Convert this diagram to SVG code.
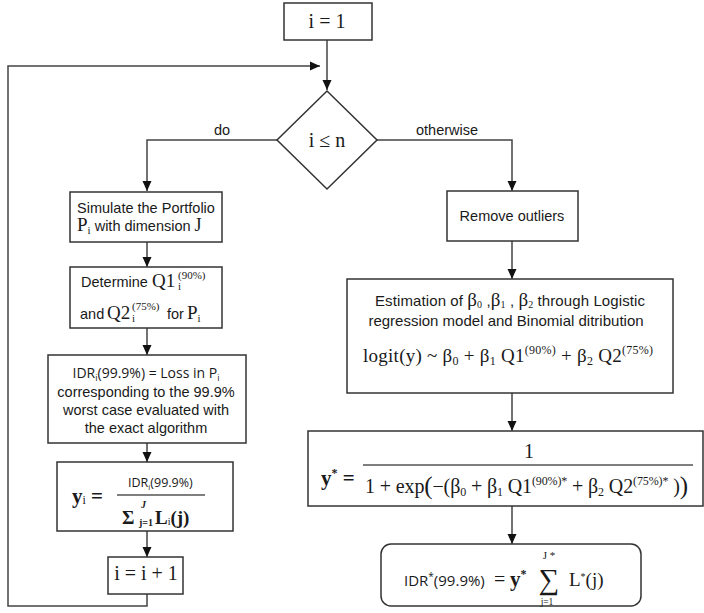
<svg xmlns="http://www.w3.org/2000/svg" width="704" height="613" viewBox="0 0 704 613">
<defs>
<marker id="ah" markerUnits="userSpaceOnUse" markerWidth="10" markerHeight="10" refX="10" refY="5" orient="auto">
<path d="M0,0.5 L10,5 L0,9.5 z" fill="#111"/>
</marker>
<style>
.box{fill:#fff;stroke:#333;stroke-width:1.5}
.con{fill:none;stroke:#444;stroke-width:1.5}
.arr{fill:none;stroke:#444;stroke-width:1.5;marker-end:url(#ah)}
.s{font-family:"Liberation Sans",Arial,sans-serif;fill:#1a1a1a}
.m{font-family:"Liberation Serif","Times New Roman",serif;fill:#1a1a1a}
.o{font-family:"Open Sans","DejaVu Sans",sans-serif;fill:#1a1a1a}
</style>
</defs>
<rect width="704" height="613" fill="#fff"/>

<g id="connectors">
<path class="arr" d="M327,40 V90"/>
<path class="arr" d="M147,594 V606 H8 V66 H320"/>
<path class="arr" d="M277,140 H147 V191"/>
<path class="arr" d="M377,140 H512 V191"/>
<path class="arr" d="M147,242 V267"/>
<path class="arr" d="M147,328 V355"/>
<path class="arr" d="M147,443 V462"/>
<path class="arr" d="M147,531 V557"/>
<path class="arr" d="M512,241 V279"/>
<path class="arr" d="M512,393 V431"/>
<path class="arr" d="M512,506 V544"/>
<text class="s" x="222" y="135" font-size="14.5" text-anchor="middle">do</text>
<text class="s" x="447" y="135" font-size="14.5" text-anchor="middle">otherwise</text>
</g>

<g id="start">
<rect class="box" x="284" y="3" width="88" height="37"/>
<text class="m" x="327" y="28" font-size="20" text-anchor="middle">i = 1</text>
</g>

<g id="decision">
<polygon class="box" points="327,91 377,140 327,189 277,140"/>
<text class="m" x="327" y="147" font-size="20" text-anchor="middle">i ≤ n</text>
</g>

<g id="simulate">
<rect class="box" x="70" y="192" width="152" height="50"/>
<text class="s" x="146" y="213" font-size="14.5" text-anchor="middle">Simulate the Portfolio</text>
<text x="77" y="231"><tspan class="m" font-size="19">P</tspan><tspan class="m" font-size="11" dy="3">i</tspan><tspan class="s" font-size="14.5" dy="-3"> with dimension </tspan><tspan class="m" font-size="18">J</tspan></text>
</g>

<g id="determine">
<rect class="box" x="70" y="267" width="152" height="61"/>
<text class="s" x="81" y="287" font-size="14.5">Determine</text>
<text class="m" x="152" y="287" font-size="19">Q1</text>
<text class="m" x="178" y="279" font-size="11">(90%)</text>
<text class="m" x="178" y="290" font-size="11">i</text>
<text class="s" x="80" y="319" font-size="14.5">and</text>
<text class="m" x="107" y="319" font-size="19">Q2</text>
<text class="m" x="132" y="310" font-size="11">(75%)</text>
<text class="m" x="132" y="322" font-size="11">i</text>
<text class="s" x="167" y="319" font-size="14.5">for</text>
<text x="187" y="319"><tspan class="m" font-size="19">P</tspan><tspan class="m" font-size="11" dy="3">i</tspan></text>
</g>

<g id="idr">
<rect class="box" x="48" y="355" width="198" height="88"/>
<text x="146" y="378" text-anchor="middle"><tspan class="o" font-size="14">IDR</tspan><tspan class="o" font-size="9" dy="3">i</tspan><tspan class="o" font-size="14" dy="-3">(99.9%) = Loss in P</tspan><tspan class="o" font-size="9" dy="3">i</tspan></text>
<text class="s" x="146" y="397" font-size="14.5" text-anchor="middle">corresponding to the 99.9%</text>
<text class="s" x="146" y="415" font-size="14.5" text-anchor="middle">worst case evaluated with</text>
<text class="s" x="146" y="433" font-size="14.5" text-anchor="middle">the exact algorithm</text>
</g>

<g id="yi">
<rect class="box" x="57" y="462" width="176" height="69"/>
<text x="72" y="503"><tspan class="m" font-size="21" font-weight="bold">y</tspan><tspan class="m" font-size="12" dy="1">i</tspan><tspan class="m" font-size="21" font-weight="bold" dy="-1"> =</tspan></text>
<line x1="117" y1="495" x2="205" y2="495" stroke="#555" stroke-width="1.5"/>
<text x="128" y="487"><tspan class="o" font-size="12.5">IDR</tspan><tspan class="o" font-size="8" dy="3">i</tspan><tspan class="o" font-size="12.5" dy="-3">(99.9%)</tspan></text>
<text class="m" x="122" y="524" font-size="19" font-weight="bold">Σ</text>
<text class="m" x="141" y="508" font-size="10" font-style="italic" font-weight="bold">J</text>
<text class="m" x="139" y="526" font-size="10" font-weight="bold">j=1</text>
<text x="155" y="524"><tspan class="m" font-size="19" font-weight="bold">L</tspan><tspan class="m" font-size="10" dy="1">i</tspan><tspan class="m" font-size="19" font-weight="bold" dy="-1">(j)</tspan></text>
</g>

<g id="increment">
<rect class="box" x="108" y="557" width="75" height="37"/>
<text class="m" x="146" y="580" font-size="20" text-anchor="middle">i = i + 1</text>
</g>

<g id="outliers">
<rect class="box" x="447" y="191" width="131" height="50"/>
<text class="s" x="512" y="221" font-size="14.5" text-anchor="middle">Remove outliers</text>
</g>

<g id="estimation">
<rect class="box" x="347" y="279" width="326" height="114"/>
<text x="375" y="306" textLength="270" lengthAdjust="spacing"><tspan class="s" font-size="15">Estimation of </tspan><tspan class="m" font-size="19">β</tspan><tspan class="m" font-size="10" dy="2">0</tspan><tspan class="s" font-size="15" dy="-2"> ,</tspan><tspan class="m" font-size="19">β</tspan><tspan class="m" font-size="10" dy="2">1</tspan><tspan class="s" font-size="15" dy="-2"> , </tspan><tspan class="m" font-size="19">β</tspan><tspan class="m" font-size="10" dy="2">2</tspan><tspan class="s" font-size="15" dy="-2">  through Logistic</tspan></text>
<text class="s" x="506" y="326" font-size="15" text-anchor="middle">regression model and Binomial ditribution</text>
<text x="363" y="362" textLength="290" lengthAdjust="spacing"><tspan class="m" font-size="19">logit(y) ~ β</tspan><tspan class="m" font-size="12" dy="3">0</tspan><tspan class="m" font-size="19" dy="-3"> + β</tspan><tspan class="m" font-size="12" dy="3">1</tspan><tspan class="m" font-size="19" dy="-3"> Q1</tspan><tspan class="m" font-size="12" dy="-8">(90%)</tspan><tspan class="m" font-size="19" dy="8"> + β</tspan><tspan class="m" font-size="12" dy="3">2</tspan><tspan class="m" font-size="19" dy="-3"> Q2</tspan><tspan class="m" font-size="12" dy="-8">(75%)</tspan></text>
</g>

<g id="ystar">
<rect class="box" x="308" y="431" width="395" height="75"/>
<text x="321" y="485"><tspan class="m" font-size="21" font-weight="bold">y</tspan><tspan class="m" font-size="12" font-weight="bold" dy="-8">*</tspan><tspan class="m" font-size="21" font-weight="bold" dy="8"> =</tspan></text>
<line x1="363" y1="465" x2="693" y2="465" stroke="#555" stroke-width="1.5"/>
<text class="m" x="529" y="458" font-size="20" text-anchor="middle">1</text>
<text x="365" y="493" textLength="323" lengthAdjust="spacing"><tspan class="m" font-size="20">1 + exp</tspan><tspan class="m" font-size="25" dy="1">(</tspan><tspan class="m" font-size="20" dy="-1">−(β</tspan><tspan class="m" font-size="12" dy="3">0</tspan><tspan class="m" font-size="20" dy="-3"> + β</tspan><tspan class="m" font-size="12" dy="3">1</tspan><tspan class="m" font-size="20" dy="-3"> Q1</tspan><tspan class="m" font-size="12" dy="-8">(90%)*</tspan><tspan class="m" font-size="20" dy="8"> + β</tspan><tspan class="m" font-size="12" dy="3">2</tspan><tspan class="m" font-size="20" dy="-3"> Q2</tspan><tspan class="m" font-size="12" dy="-8">(75%)*</tspan><tspan class="m" font-size="20" dy="8"> )</tspan><tspan class="m" font-size="25" dy="1">)</tspan></text>
</g>

<g id="result">
<rect class="box" x="381" y="544" width="260" height="62" rx="10" ry="10"/>
<text x="404" y="586"><tspan class="o" font-size="15">IDR</tspan><tspan class="o" font-size="10" dy="-6">*</tspan><tspan class="o" font-size="15" dy="6">(99.9%)</tspan></text>
<text class="m" x="494" y="586" font-size="20">=</text>
<text x="510" y="586"><tspan class="m" font-size="21" font-weight="bold">y</tspan><tspan class="m" font-size="12" font-weight="bold" dy="-8">*</tspan></text>
<text class="m" x="549" y="589" font-size="29" text-anchor="middle">∑</text>
<text class="m" x="549" y="559" font-size="11" text-anchor="middle">J *</text>
<text class="m" x="547" y="605" font-size="9.5" text-anchor="middle">j=1</text>
<text x="569" y="586"><tspan class="m" font-size="19">L</tspan><tspan class="m" font-size="10" dy="-6">*</tspan><tspan class="m" font-size="19" dy="6">(j)</tspan></text>
</g>
</svg>
